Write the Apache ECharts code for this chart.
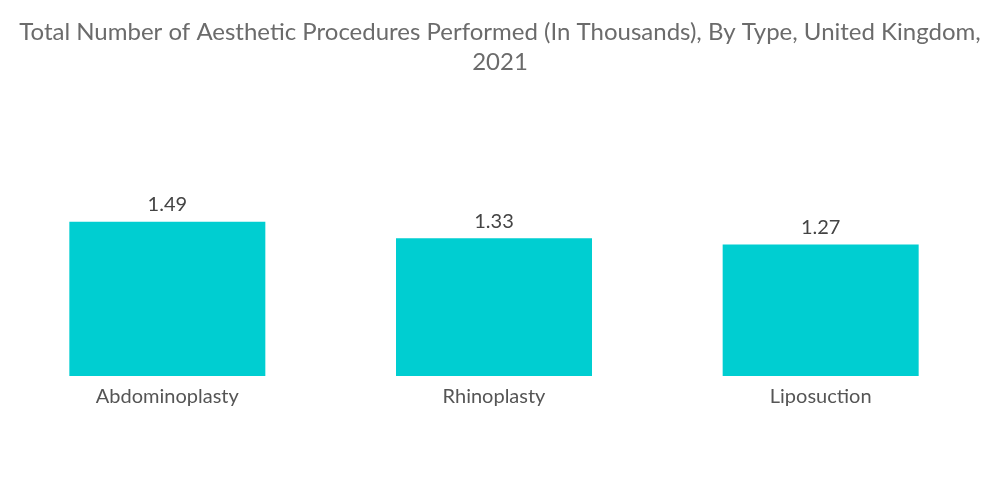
<!DOCTYPE html>
<html>
<head>
<meta charset="utf-8">
<script src="https://cdn.jsdelivr.net/npm/echarts@6/dist/echarts.min.js"></script>
<style>html,body{margin:0;padding:0;background:#fff;}#main{width:1000px;height:504px;}</style>
</head>
<body>
<div id="main"></div>
<script>
const categories = ['Abdominoplasty', 'Rhinoplasty', 'Liposuction'];
const values = [1.49, 1.33, 1.27];
const titleText = 'Total Number of Aesthetic Procedures Performed (In Thousands), By Type, United Kingdom,\n2021';

const chart = echarts.init(document.getElementById('main'));
chart.setOption({
  animation: false,
  title: {
    text: titleText,
    left: 'center',
    top: 12,
    textStyle: { fontFamily: 'Lato', fontWeight: 'normal', fontSize: 24, color: '#6b6b6b', lineHeight: 30 }
  },
  grid: { left: 4, right: 16, top: 169, bottom: 128, containLabel: false },
  xAxis: {
    type: 'category',
    data: categories,
    axisLine: { show: false },
    axisTick: { show: false },
    axisLabel: { fontFamily: 'Lato', fontSize: 20, color: '#555555', margin: 11 }
  },
  yAxis: {
    type: 'value',
    min: 0, max: 2,
    show: false,
    splitLine: { show: false }
  },
  series: [{
    type: 'bar',
    data: values,
    barWidth: '60%',
    itemStyle: { color: '#00CED1' },
    label: { show: true, position: 'top', distance: 7, fontFamily: 'Lato', fontSize: 20, color: '#444444' }
  }]
});
</script>
</body>
</html>
